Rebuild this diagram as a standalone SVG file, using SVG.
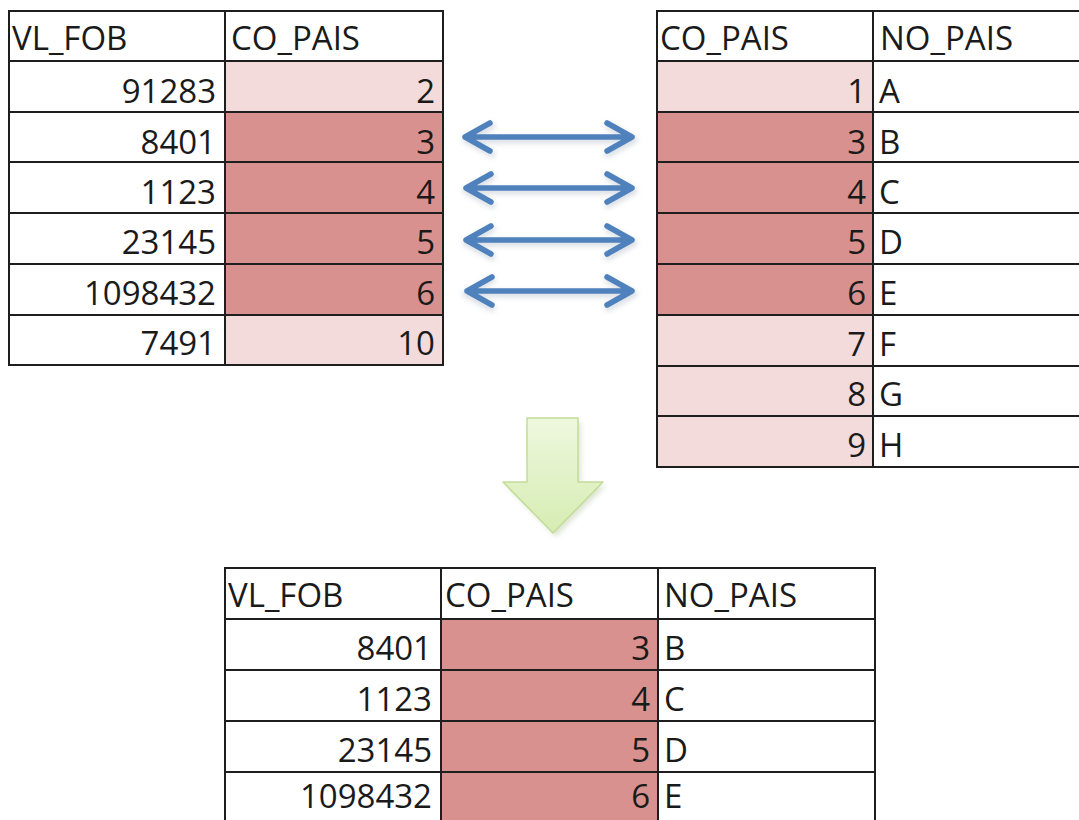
<svg xmlns="http://www.w3.org/2000/svg" width="1079" height="820" viewBox="0 0 1079 820">
  <defs>
    <style>
      .grid { stroke: #1e1e1e; stroke-width: 2; fill: none; }
      .t { font-family: "Open Sans", "Liberation Sans", sans-serif; font-size: 33px; fill: #1a1a1a; }
      .r { text-anchor: end; }
      .dark { fill: #d9918f; }
      .light { fill: #f2dbda; }
      .dbl { stroke: #4f81bd; stroke-width: 5.5; fill: none; stroke-linecap: round; stroke-linejoin: round; }
      .dblshadow { stroke: #9aa7b8; stroke-width: 7; fill: none; stroke-linecap: round; stroke-linejoin: round; opacity: 0.35; }
    </style>
    <linearGradient id="greenGrad" x1="0" y1="0" x2="0" y2="1">
      <stop offset="0" stop-color="#eef8de"/>
      <stop offset="1" stop-color="#d6ecb2"/>
    </linearGradient>
    <filter id="blur" x="-20%" y="-20%" width="140%" height="140%">
      <feGaussianBlur stdDeviation="2.5"/>
    </filter>
  </defs>
  <rect width="1079" height="820" fill="#ffffff"/>

  <!-- Top-left table -->
  <g id="table-fob">
    <rect class="light" x="225" y="61" width="218" height="51"/>
    <rect class="dark" x="225" y="112" width="218" height="203"/>
    <rect class="light" x="225" y="315" width="218" height="50"/>
    <rect class="grid" x="9" y="11" width="434" height="354"/>
    <path class="grid" d="M225 11V365 M9 61H443 M9 112H443 M9 162H443 M9 213H443 M9 264H443 M9 315H443"/>
    <text class="t" x="12" y="50">VL_FOB</text>
    <text class="t" x="231" y="50">CO_PAIS</text>
    <text class="t r" x="216" y="103">91283</text>
    <text class="t r" x="435" y="103">2</text>
    <text class="t r" x="216" y="154">8401</text>
    <text class="t r" x="435" y="154">3</text>
    <text class="t r" x="216" y="204">1123</text>
    <text class="t r" x="435" y="204">4</text>
    <text class="t r" x="216" y="254">23145</text>
    <text class="t r" x="435" y="254">5</text>
    <text class="t r" x="216" y="305">1098432</text>
    <text class="t r" x="435" y="305">6</text>
    <text class="t r" x="216" y="355">7491</text>
    <text class="t r" x="435" y="355">10</text>
  </g>

  <!-- Top-right table -->
  <g id="table-pais">
    <rect class="light" x="657" y="61" width="216" height="51"/>
    <rect class="dark" x="657" y="112" width="216" height="203"/>
    <rect class="light" x="657" y="315" width="216" height="152"/>
    <path class="grid" d="M1080 11H657V467H1080 M873 11V467 M657 61H1080 M657 112H1080 M657 162H1080 M657 213H1080 M657 264H1080 M657 315H1080 M657 366H1080 M657 416H1080"/>
    <text class="t" x="660" y="50">CO_PAIS</text>
    <text class="t" x="880" y="50">NO_PAIS</text>
    <text class="t r" x="866" y="103">1</text><text class="t" x="879" y="103">A</text>
    <text class="t r" x="866" y="154">3</text><text class="t" x="879" y="154">B</text>
    <text class="t r" x="866" y="204">4</text><text class="t" x="879" y="204">C</text>
    <text class="t r" x="866" y="254">5</text><text class="t" x="879" y="254">D</text>
    <text class="t r" x="866" y="305">6</text><text class="t" x="879" y="305">E</text>
    <text class="t r" x="866" y="356">7</text><text class="t" x="879" y="356">F</text>
    <text class="t r" x="866" y="406">8</text><text class="t" x="879" y="406">G</text>
    <text class="t r" x="866" y="457">9</text><text class="t" x="879" y="457">H</text>
  </g>

  <!-- Connectors: double-headed arrows -->
  <g id="connectors">
    <g filter="url(#blur)">
      <path class="dblshadow" d="M466 140H634 M492 126L466 140L492 154 M608 126L634 140L608 154"/>
      <path class="dblshadow" d="M466 191H634 M492 177L466 191L492 205 M608 177L634 191L608 205"/>
      <path class="dblshadow" d="M466 243H634 M492 229L466 243L492 257 M608 229L634 243L608 257"/>
      <path class="dblshadow" d="M466 294H634 M492 280L466 294L492 308 M608 280L634 294L608 308"/>
    </g>
    <path class="dbl" d="M465 137H632 M490 123L465 137L490 151 M607 123L632 137L607 151"/>
    <path class="dbl" d="M466 188H632 M491 174L466 188L491 202 M607 174L632 188L607 202"/>
    <path class="dbl" d="M466 240H632 M491 226L466 240L491 254 M607 226L632 240L607 254"/>
    <path class="dbl" d="M467 291H632 M492 277L467 291L492 305 M607 277L632 291L607 305"/>
  </g>

  <!-- Down arrow -->
  <g id="down-arrow">
    <polygon points="530,422 581,422 581,486 606,486 556,537 506,486 530,486" fill="#b8c8a0" opacity="0.45" filter="url(#blur)"/>
    <polygon points="527,418 578,418 578,482 603,482 553,533 503,482 527,482" fill="url(#greenGrad)" stroke="#c3dc98" stroke-width="1.5" stroke-linejoin="round"/>
  </g>

  <!-- Bottom result table -->
  <g id="table-result">
    <rect class="dark" x="441" y="619" width="217" height="204"/>
    <path class="grid" d="M225 823V568H875V823 M441 568V823 M658 568V823 M225 619H875 M225 670H875 M225 721H875 M225 772H875"/>
    <text class="t" x="228" y="607">VL_FOB</text>
    <text class="t" x="445" y="607">CO_PAIS</text>
    <text class="t" x="664" y="607">NO_PAIS</text>
    <text class="t r" x="432" y="660">8401</text>
    <text class="t r" x="650" y="660">3</text>
    <text class="t" x="664" y="660">B</text>
    <text class="t r" x="432" y="711">1123</text>
    <text class="t r" x="650" y="711">4</text>
    <text class="t" x="664" y="711">C</text>
    <text class="t r" x="432" y="762">23145</text>
    <text class="t r" x="650" y="762">5</text>
    <text class="t" x="664" y="762">D</text>
    <text class="t r" x="432" y="808">1098432</text>
    <text class="t r" x="650" y="808">6</text>
    <text class="t" x="664" y="808">E</text>
  </g>
</svg>
